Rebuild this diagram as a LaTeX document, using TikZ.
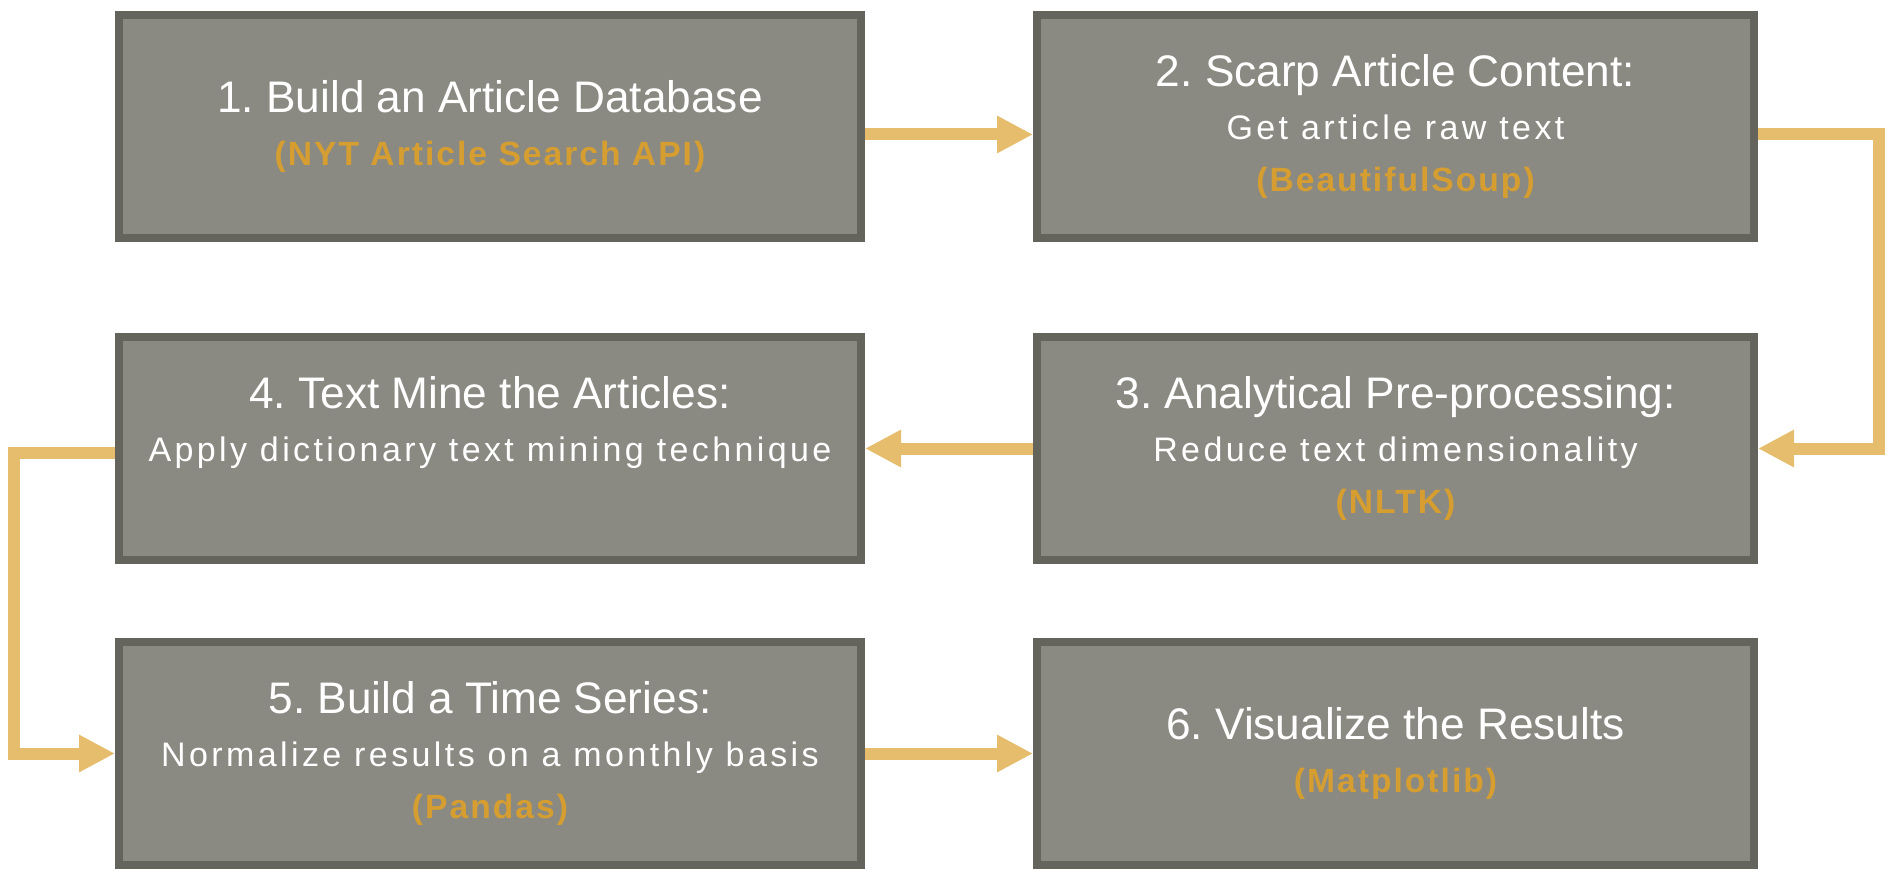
\documentclass[tikz,border=0pt]{standalone}
\usepackage{fontspec}
\setmainfont{Liberation Sans}
\newfontfamily\subfont[LetterSpace=10]{Liberation Sans}
\newfontfamily\toolfont[LetterSpace=6]{Liberation Sans}
\usetikzlibrary{positioning,arrows.meta,calc}
\definecolor{cBox}{HTML}{8A8A82}
\definecolor{cEdge}{HTML}{64645C}
\definecolor{cFlow}{HTML}{E5BD6C}
\definecolor{cTool}{HTML}{D69E30}
\newcommand*{\subline}[1]{{\subfont\fontsize{17pt}{26.3pt}\selectfont #1}}
\newcommand*{\toolline}[1]{{\toolfont\bfseries\fontsize{16.8pt}{26.3pt}\selectfont\color{cTool}#1}}

\begin{document}
\frenchspacing
\begin{tikzpicture}[
  stage/.style={draw=cEdge, fill=cBox, line width=4pt, align=center, text=white,
                minimum height=111.5pt, inner sep=0pt,
                font=\fontsize{22.1pt}{26.3pt}\selectfont},
  colA/.style={stage, minimum width=371pt},
  colB/.style={stage, minimum width=358.5pt},
  flow/.style={-{Triangle[length=18pt,width=17.5pt]}, draw=cFlow, line width=6pt},
  node distance=45.5pt and 84pt]
\useasboundingbox (0,0) rectangle (947pt,-441pt);

% ---------- top row ----------
\node[colA] (build) at (245pt,-63.25pt) {1. Build an Article Database\\\toolline{(NYT Article Search API)}};
\node[colB, right=of build] (scrape) {2. Scarp Article Content:\\\subline{Get article raw text}\\\toolline{(BeautifulSoup)}};

% ---------- middle row ----------
\node[colB, below=of scrape] (prep) {3. Analytical Pre-processing:\\\subline{Reduce text dimensionality}\\\toolline{(NLTK)}};
\node[colA, left=of prep] (mine) {4. Text Mine the Articles:\\\subline{Apply dictionary text mining technique}\\\phantom{\toolline{(NLTK)}}};

% ---------- bottom row ----------
\node[colA, below=37pt of mine] (series) {5. Build a Time Series:\\\subline{Normalize results on a monthly basis}\\\toolline{(Pandas)}};
\node[colB, right=of series] (viz) {6. Visualize the Results\\\toolline{(Matplotlib)}};

% ---------- connectors ----------
\coordinate (turnR) at ($(scrape.east)+(60.25pt,-4pt)$);
\coordinate (turnL) at ($(mine.west)+(-50.5pt,-2pt)$);
\draw[flow] ([yshift=-4pt]build.east) -- ([yshift=-4pt]scrape.west);
\draw[flow] ([yshift=-4pt]scrape.east) -- (turnR) |- (prep.east);
\draw[flow] (prep) -- (mine);
\draw[flow] ([yshift=-2pt]mine.west) -- (turnL) |- (series.west);
\draw[flow] (series) -- (viz);
\end{tikzpicture}
\end{document}
